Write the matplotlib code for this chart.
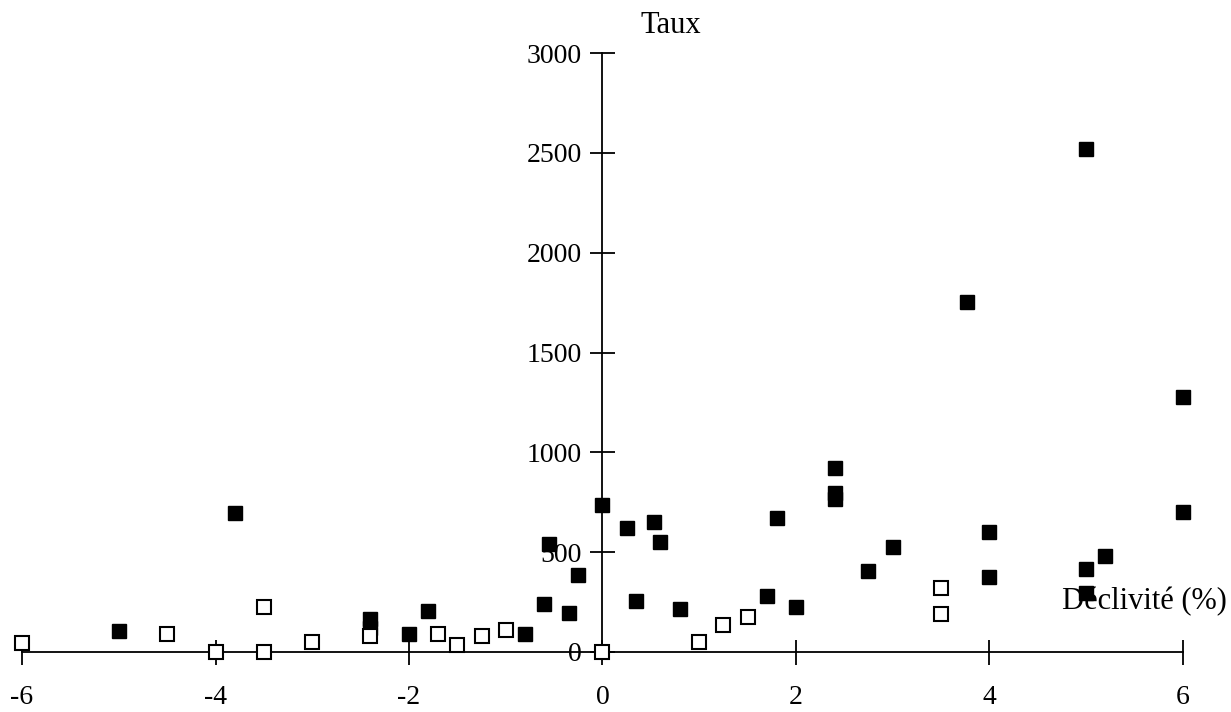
import matplotlib.pyplot as plt

plt.rcParams['font.family'] = ['Liberation Serif', 'DejaVu Serif']
plt.rcParams['axes.unicode_minus'] = False

# filled squares
x_plein = [-5, -3.8, -2.4, -2.4, -2, -1.8, -0.8, -0.6, -0.55, -0.35, -0.25, 0,
           0.25, 0.35, 0.53, 0.6, 0.8, 1.7, 1.8, 2, 2.4, 2.4, 2.4, 2.75, 3,
           3.77, 4, 4, 5, 5, 5, 5.2, 6, 6]
y_plein = [105, 697, 165, 122, 92, 203, 90, 242, 542, 195, 387, 737,
           623, 253, 653, 552, 216, 281, 673, 223, 924, 795, 765, 407, 524,
           1754, 603, 377, 2520, 415, 293, 480, 1275, 703]

# open squares
x_vide = [-6, -4.5, -4, -3.5, -3.5, -3, -2.4, -1.7, -1.5, -1.25, -1, 0,
          1, 1.25, 1.5, 3.5, 3.5]
y_vide = [45, 88, 0, 225, 0, 50, 80, 88, 33, 80, 108, 0,
          49, 137, 176, 320, 192]

xticks = [-6, -4, -2, 0, 2, 4, 6]
yticks = [0, 500, 1000, 1500, 2000, 2500, 3000]

fig = plt.figure(figsize=(12.31, 7.12), dpi=100)
ax = fig.add_axes([0.0179, 0.0843, 0.943, 0.841])

ax.plot(x_plein, y_plein, 's', color='black', markersize=10.5, clip_on=False, zorder=3)
ax.plot(x_vide, y_vide, 's', markerfacecolor='white', markeredgecolor='black',
        markeredgewidth=1.5, markersize=10, clip_on=False, zorder=3)

ax.set_xlim(-6, 6)
ax.set_ylim(0, 3000)
ax.spines['left'].set_position(('data', 0))
ax.spines['bottom'].set_position(('data', 0))
ax.spines['top'].set_visible(False)
ax.spines['right'].set_visible(False)
for s in ['left', 'bottom']:
    ax.spines[s].set_linewidth(1.3)

ax.set_xticks(xticks)
ax.set_yticks(yticks)
ax.tick_params(axis='y', direction='inout', length=18, width=1.3, labelsize=20, pad=6)
ax.tick_params(axis='x', direction='inout', length=18, width=1.3, labelsize=20, pad=15)

ax.text(0.71, 3140, 'Taux', fontsize=22, ha='center', va='center')
ax.text(6.45, 255, 'Déclivité (%)', fontsize=22, ha='right', va='center')

plt.savefig('out.png', dpi=100)
